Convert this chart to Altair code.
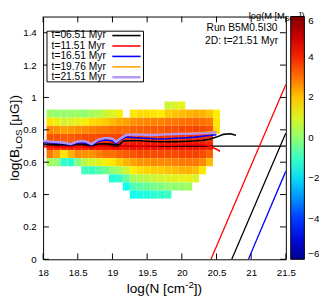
import altair as alt
import pandas as pd

FONT = "Liberation Sans"

# ---------------- 2D histogram: log(M [M_SOL]) per (log N, log B) cell ----------------
COL_X = [18.1, 18.2, 18.3, 18.4, 18.5, 18.6, 18.7, 18.8, 18.9, 19.0, 19.1, 19.2, 19.3,
         19.4, 19.5, 19.6, 19.7, 19.8, 19.9, 20.0, 20.1, 20.2, 20.3, 20.4, 20.5]
COL_TOP = [0.90, 0.90, 0.90, 0.90, 0.90, 0.90, 0.90, 0.90, 0.90, 0.90, 0.90, 0.85, 0.90,
           0.90, 0.90, 0.90, 0.90, 0.95, 0.95, 0.95, 0.90, 0.90, 0.90, 0.90, 0.90]
COL_VALS = [
    [0.2, 1.6, 2.7, 3.4, 3.9, 2.9, 0.3],
    [0.0, 1.3, 2.6, 3.4, 3.9, 2.4, 0.0],
    [0.1, 0.9, 2.4, 3.3, 3.9, 1.6, -1.1],
    [0.1, 1.0, 2.5, 3.3, 4.0, 2.2, -1.2],
    [0.2, 1.2, 2.6, 3.4, 4.0, 2.7, -0.2],
    [0.0, 1.4, 2.7, 3.5, 4.0, 2.6, 0.6, -0.9],
    [0.3, 1.7, 2.8, 3.5, 4.0, 2.6, 0.9, -1.0],
    [0.4, 1.8, 2.9, 3.5, 4.1, 2.8, 1.1, -0.7],
    [0.8, 1.9, 2.9, 3.6, 4.1, 3.0, 1.4, -0.4],
    [1.0, 2.1, 3.0, 3.6, 4.1, 3.0, 1.6, 0.0, -1.3],
    [1.4, 2.3, 3.1, 3.7, 4.1, 3.2, 1.9, 0.3, -1.1],
    [2.4, 3.1, 3.7, 4.1, 3.3, 2.2, 0.8, -0.5, -1.5],
    [1.6, 2.6, 3.2, 3.7, 4.2, 3.4, 2.4, 1.5, 0.3, -0.8, -1.5],
    [1.7, 2.7, 3.2, 3.7, 4.2, 3.5, 2.6, 1.7, 0.5, -0.6, -1.4],
    [1.7, 2.7, 3.3, 3.7, 4.2, 3.5, 2.6, 1.8, 0.6, -0.5, -1.3],
    [1.6, 2.8, 3.3, 3.8, 4.2, 3.5, 2.7, 1.9, 0.8, -0.3, -1.2],
    [1.5, 2.8, 3.3, 3.8, 4.2, 3.5, 2.7, 1.9, 0.9, -0.2, -1.1],
    [0.8, 1.9, 2.9, 3.4, 3.8, 4.2, 3.5, 2.7, 2.0, 1.0, 0.0, -1.0],
    [1.0, 2.0, 2.9, 3.4, 3.8, 4.2, 3.5, 2.8, 2.1, 1.1, 0.0],
    [1.2, 2.1, 3.0, 3.5, 3.8, 4.2, 3.6, 2.9, 2.2, 1.2, 0.1],
    [2.2, 3.0, 3.5, 3.9, 4.2, 3.6, 2.9, 2.2, 1.2, 0.2],
    [2.3, 3.1, 3.6, 3.9, 4.2, 3.6, 2.9, 2.1, 1.0],
    [2.2, 3.0, 3.5, 3.9, 4.1, 3.5, 2.7, 1.6],
    [2.0, 2.9, 3.4, 3.8, 4.0, 3.2, 2.1],
    [1.5, 1.6, 1.7],
]
BIN_W = 0.1
BIN_H = 0.05

# ---------------- mean-field curves per snapshot ----------------
SERIES = ["t=06.51 Myr", "t=11.51 Myr", "t=16.51 Myr", "t=19.76 Myr", "t=21.51 Myr"]
SERIES_COLORS = ["#000000", "#ff0000", "#0000ff", "#ffa500", "#b294f5"]
SERIES_WIDTH = [1.6, 1.6, 1.6, 1.6, 2.4]

X_COMMON = [18.0, 18.1, 18.2, 18.3, 18.4, 18.5, 18.6, 18.7, 18.8, 18.9, 19.0, 19.05, 19.1,
            19.2, 19.3, 19.4, 19.5, 19.6, 19.7, 19.8, 19.9, 20.0, 20.1, 20.2, 20.3, 20.4, 20.5]

X_T06 = [18.0, 18.1, 18.2, 18.3, 18.4, 18.5, 18.6, 18.7, 18.8, 18.9, 19.0, 19.1, 19.15,
         19.2, 19.3, 19.4, 19.5, 19.6, 19.7, 19.8, 19.9, 20.0, 20.1, 20.2, 20.3, 20.4, 20.5,
         20.6, 20.7, 20.78]
Y_T06 = [0.712, 0.71, 0.708, 0.71, 0.706, 0.712, 0.71, 0.705, 0.712, 0.714, 0.71, 0.708, 0.73,
         0.732, 0.733, 0.732, 0.73, 0.728, 0.726, 0.726, 0.727, 0.728, 0.73, 0.732, 0.735, 0.742,
         0.755, 0.772, 0.776, 0.766]

X_T11 = X_COMMON + [20.55]
Y_T11 = [0.695, 0.697, 0.694, 0.696, 0.692, 0.698, 0.695, 0.69, 0.7, 0.698, 0.692, 0.682, 0.695,
         0.7, 0.7, 0.702, 0.7, 0.702, 0.705, 0.705, 0.706, 0.708, 0.71, 0.71, 0.708, 0.7, 0.68, 0.668]

X_T16 = X_COMMON
Y_T16 = [0.725, 0.72, 0.717, 0.714, 0.707, 0.72, 0.722, 0.706, 0.73, 0.738, 0.732, 0.714, 0.735,
         0.755, 0.752, 0.75, 0.748, 0.745, 0.743, 0.745, 0.748, 0.75, 0.752, 0.755, 0.76, 0.765, 0.77]

X_T19 = X_COMMON
Y_T19 = [0.733, 0.728, 0.726, 0.721, 0.714, 0.729, 0.731, 0.714, 0.741, 0.751, 0.746, 0.727, 0.744,
         0.769, 0.773, 0.771, 0.769, 0.769, 0.771, 0.774, 0.776, 0.777, 0.778, 0.78, 0.782, 0.786, 0.79]

X_T21 = X_COMMON
Y_T21 = [0.732, 0.727, 0.725, 0.72, 0.712, 0.728, 0.73, 0.712, 0.74, 0.75, 0.745, 0.725, 0.742,
         0.768, 0.772, 0.77, 0.768, 0.768, 0.77, 0.772, 0.774, 0.775, 0.775, 0.777, 0.778, 0.78, 0.784]

SERIES_X = [X_T06, X_T11, X_T16, X_T19, X_T21]
SERIES_Y = [Y_T06, Y_T11, Y_T16, Y_T19, Y_T21]

# reference horizontal line and diagonal relations
HLINE_X = [18.0, 21.5]
HLINE_Y = [0.7, 0.7]
DIAG_NAMES = ["d_red", "d_black", "d_blue"]
DIAG_COLORS = ["#ff0000", "#000000", "#0000ff"]
DIAG_X = [[20.42, 21.5], [20.72, 21.5], [20.96, 21.5]]
DIAG_Y = [[0.0, 1.08], [0.0, 0.78], [0.0, 0.545]]

X_TICKS = [18, 18.5, 19, 19.5, 20, 20.5, 21, 21.5]
Y_TICKS = [0, 0.2, 0.4, 0.6, 0.8, 1.0, 1.2, 1.4]
CB_TICKS = [-6, -4, -2, 0, 2, 4, 6]
CB_INNER = [-4, -2, 0, 2, 4]

PAL_DOMAIN = [-6, -4.5, -3, -1.5, 0, 1.5, 3, 4.5, 6]
PAL_COLORS = ["#000090", "#000fff", "#0090ff", "#0fffee", "#90ff70",
              "#ffee00", "#ff7000", "#ee0000", "#7f0000"]

W, H = 249, 249
CB_X0, CB_W = 254, 14

# ---------------- tables ----------------
cells = []
for xc, top, vals in zip(COL_X, COL_TOP, COL_VALS):
    for k, v in enumerate(vals):
        yc = top - BIN_H * k
        cells.append({"x1": xc - BIN_W / 2, "x2": xc + BIN_W / 2,
                      "y1": yc - BIN_H / 2, "y2": yc + BIN_H / 2, "m": v})
heat_df = pd.DataFrame(cells)

rows = []
for name, xs_, ys_, sw in zip(SERIES, SERIES_X, SERIES_Y, SERIES_WIDTH):
    for i, (a, b) in enumerate(zip(xs_, ys_)):
        rows.append({"series": name, "x": a, "y": b, "o": i, "sw": sw})
lines_df = pd.DataFrame(rows)

diag_rows = []
for name, col, xs_, ys_ in zip(DIAG_NAMES, DIAG_COLORS, DIAG_X, DIAG_Y):
    for i, (a, b) in enumerate(zip(xs_, ys_)):
        diag_rows.append({"name": name, "col": col, "x": a, "y": b, "o": i})
diag_df = pd.DataFrame(diag_rows)

hline_df = pd.DataFrame({"x": HLINE_X, "y": HLINE_Y})
xt_df = pd.DataFrame({"v": X_TICKS})
yt_df = pd.DataFrame({"v": Y_TICKS})
cb_df = pd.DataFrame({"v": CB_INNER})
leg_df = pd.DataFrame({"label": SERIES, "col": SERIES_COLORS, "i": list(range(len(SERIES))),
                       "sw": SERIES_WIDTH})
one = pd.DataFrame({"a": [0]})

xs = alt.Scale(domain=[18, 21.5], nice=False, zero=False)
ys = alt.Scale(domain=[0, 1.5], nice=False, zero=False)

AXX = alt.Axis(values=X_TICKS, format="~g", title=None, domain=False, ticks=False, tickSize=0,
               grid=False, labelFont=FONT, labelFontSize=10, labelColor="black", labelPadding=9,
               labelFlush=False)
AXY = alt.Axis(values=Y_TICKS, format="~g", title=None, domain=False, ticks=False, tickSize=0,
               grid=False, labelFont=FONT, labelFontSize=10, labelColor="black", labelPadding=7)

heat = alt.Chart(heat_df).mark_rect(strokeWidth=0).encode(
    x=alt.X("x1:Q", scale=xs, axis=AXX),
    x2="x2:Q",
    y=alt.Y("y1:Q", scale=ys, axis=AXY),
    y2="y2:Q",
    color=alt.Color("m:Q",
                    scale=alt.Scale(domain=PAL_DOMAIN, range=PAL_COLORS, interpolate="rgb"),
                    legend=alt.Legend(orient="none", legendX=CB_X0, legendY=0, direction="vertical",
                                      gradientLength=H, gradientThickness=CB_W, title=None,
                                      values=CB_TICKS, labelFont=FONT, labelFontSize=10,
                                      labelColor="black", labelOffset=4, padding=0,
                                      labelOverlap=False, labelBaseline="middle",
                                      gradientStrokeColor="black", gradientStrokeWidth=1,
                                      labelExpr="datum.value >= 0 ? '\u00a0' + datum.label : datum.label")),
)

hline = alt.Chart(hline_df).mark_line(color="black", strokeWidth=1.3).encode(
    x=alt.X("x:Q", scale=xs, axis=AXX), y=alt.Y("y:Q", scale=ys, axis=AXY))

diag = alt.Chart(diag_df).mark_line(strokeWidth=1.3, clip=True).encode(
    x=alt.X("x:Q", scale=xs, axis=AXX), y=alt.Y("y:Q", scale=ys, axis=AXY),
    detail="name:N", order="o:Q", stroke=alt.Stroke("col:N", scale=None))

series = alt.Chart(lines_df).mark_line(clip=True).encode(
    x=alt.X("x:Q", scale=xs, axis=AXX), y=alt.Y("y:Q", scale=ys, axis=AXY),
    order="o:Q",
    stroke=alt.Stroke("series:N", scale=alt.Scale(domain=SERIES, range=SERIES_COLORS), legend=None),
    strokeWidth=alt.StrokeWidth("sw:Q", scale=None))

tick_b = alt.Chart(xt_df).mark_rule(color="black", strokeWidth=1).encode(
    x=alt.X("v:Q", scale=xs, axis=AXX), y=alt.value(H), y2=alt.value(H - 6))
tick_t = alt.Chart(xt_df).mark_rule(color="black", strokeWidth=1).encode(
    x=alt.X("v:Q", scale=xs, axis=AXX), y=alt.value(0), y2=alt.value(6))
tick_l = alt.Chart(yt_df).mark_rule(color="black", strokeWidth=1).encode(
    y=alt.Y("v:Q", scale=ys, axis=AXY), x=alt.value(0), x2=alt.value(6))
tick_r = alt.Chart(yt_df).mark_rule(color="black", strokeWidth=1).encode(
    y=alt.Y("v:Q", scale=ys, axis=AXY), x=alt.value(W), x2=alt.value(W - 6))

# dashed tick marks inside the colour bar (positions follow the bar's -6..6 range)
cb_ticks = alt.Chart(cb_df).transform_calculate(
    py=f"(6 - datum.v) / 12 * {H}").mark_rule(
    color="black", strokeWidth=1, strokeDash=[5, 4]).encode(
    x=alt.value(CB_X0), x2=alt.value(CB_X0 + CB_W), y=alt.Y("py:Q", scale=None))

# key box
leg_box = alt.Chart(one).mark_rect(fill="white", stroke="black", strokeWidth=1).encode(
    x=alt.value(4), x2=alt.value(103), y=alt.value(15), y2=alt.value(67))
leg_text = alt.Chart(leg_df).transform_calculate(ly="19.5 + 10.7 * datum.i").mark_text(
    align="left", baseline="middle", font=FONT, fontSize=10.5, color="black").encode(
    x=alt.value(8.7), y=alt.Y("ly:Q", scale=None), text="label:N")
leg_line = alt.Chart(leg_df).transform_calculate(ly="19.5 + 10.7 * datum.i").mark_rule().encode(
    x=alt.value(71), x2=alt.value(100), y=alt.Y("ly:Q", scale=None),
    stroke=alt.Stroke("col:N", scale=None), strokeWidth=alt.StrokeWidth("sw:Q", scale=None))


# annotations
def txt(s, x, y, size, align="left", angle=0):
    kw = dict(align=align, baseline="alphabetic", font=FONT, fontSize=size, color="black")
    if angle:
        kw["angle"] = angle
    return alt.Chart(pd.DataFrame({"t": [s]})).mark_text(**kw).encode(
        x=alt.value(x), y=alt.value(y), text="t:N")


run1 = txt("Run B5M0.5I30", 240.5, 15.3, 10.5, align="right")
run2 = txt("2D: t=21.51 Myr", 241, 27.7, 10.5, align="right")

xt1 = txt("log(N [cm", 85.8, 283.5, 14)
xt2 = txt("-2", 145.7, 278, 10)
xt3 = txt("])", 154.6, 283.5, 14)

yt1 = txt("log(B", -25, 168.5, 14, angle=270)
yt2 = txt("LOS", -22, 135.8, 10, angle=270)
yt3 = txt("[μG])", -25, 111.9, 14, angle=270)

ct1 = txt("log(M [M", 211, 2.5, 9.5)
ct2 = txt("SOL", 248.2, 4.5, 7)
ct3 = txt("])", 262.4, 2.5, 9.5)

chart = alt.layer(
    heat, hline, diag, series, tick_b, tick_t, tick_l, tick_r, cb_ticks,
    leg_box, leg_text, leg_line, run1, run2,
    xt1, xt2, xt3, yt1, yt2, yt3, ct1, ct2, ct3,
).properties(
    width=W, height=H,
    autosize=alt.AutoSizeParams(type="none"),
    padding={"left": 36, "top": 5, "right": 34, "bottom": 39},
    background="white",
).configure_view(stroke="black", strokeWidth=1)

chart.save("out.html", embed_options={"renderer": "svg", "actions": False})
